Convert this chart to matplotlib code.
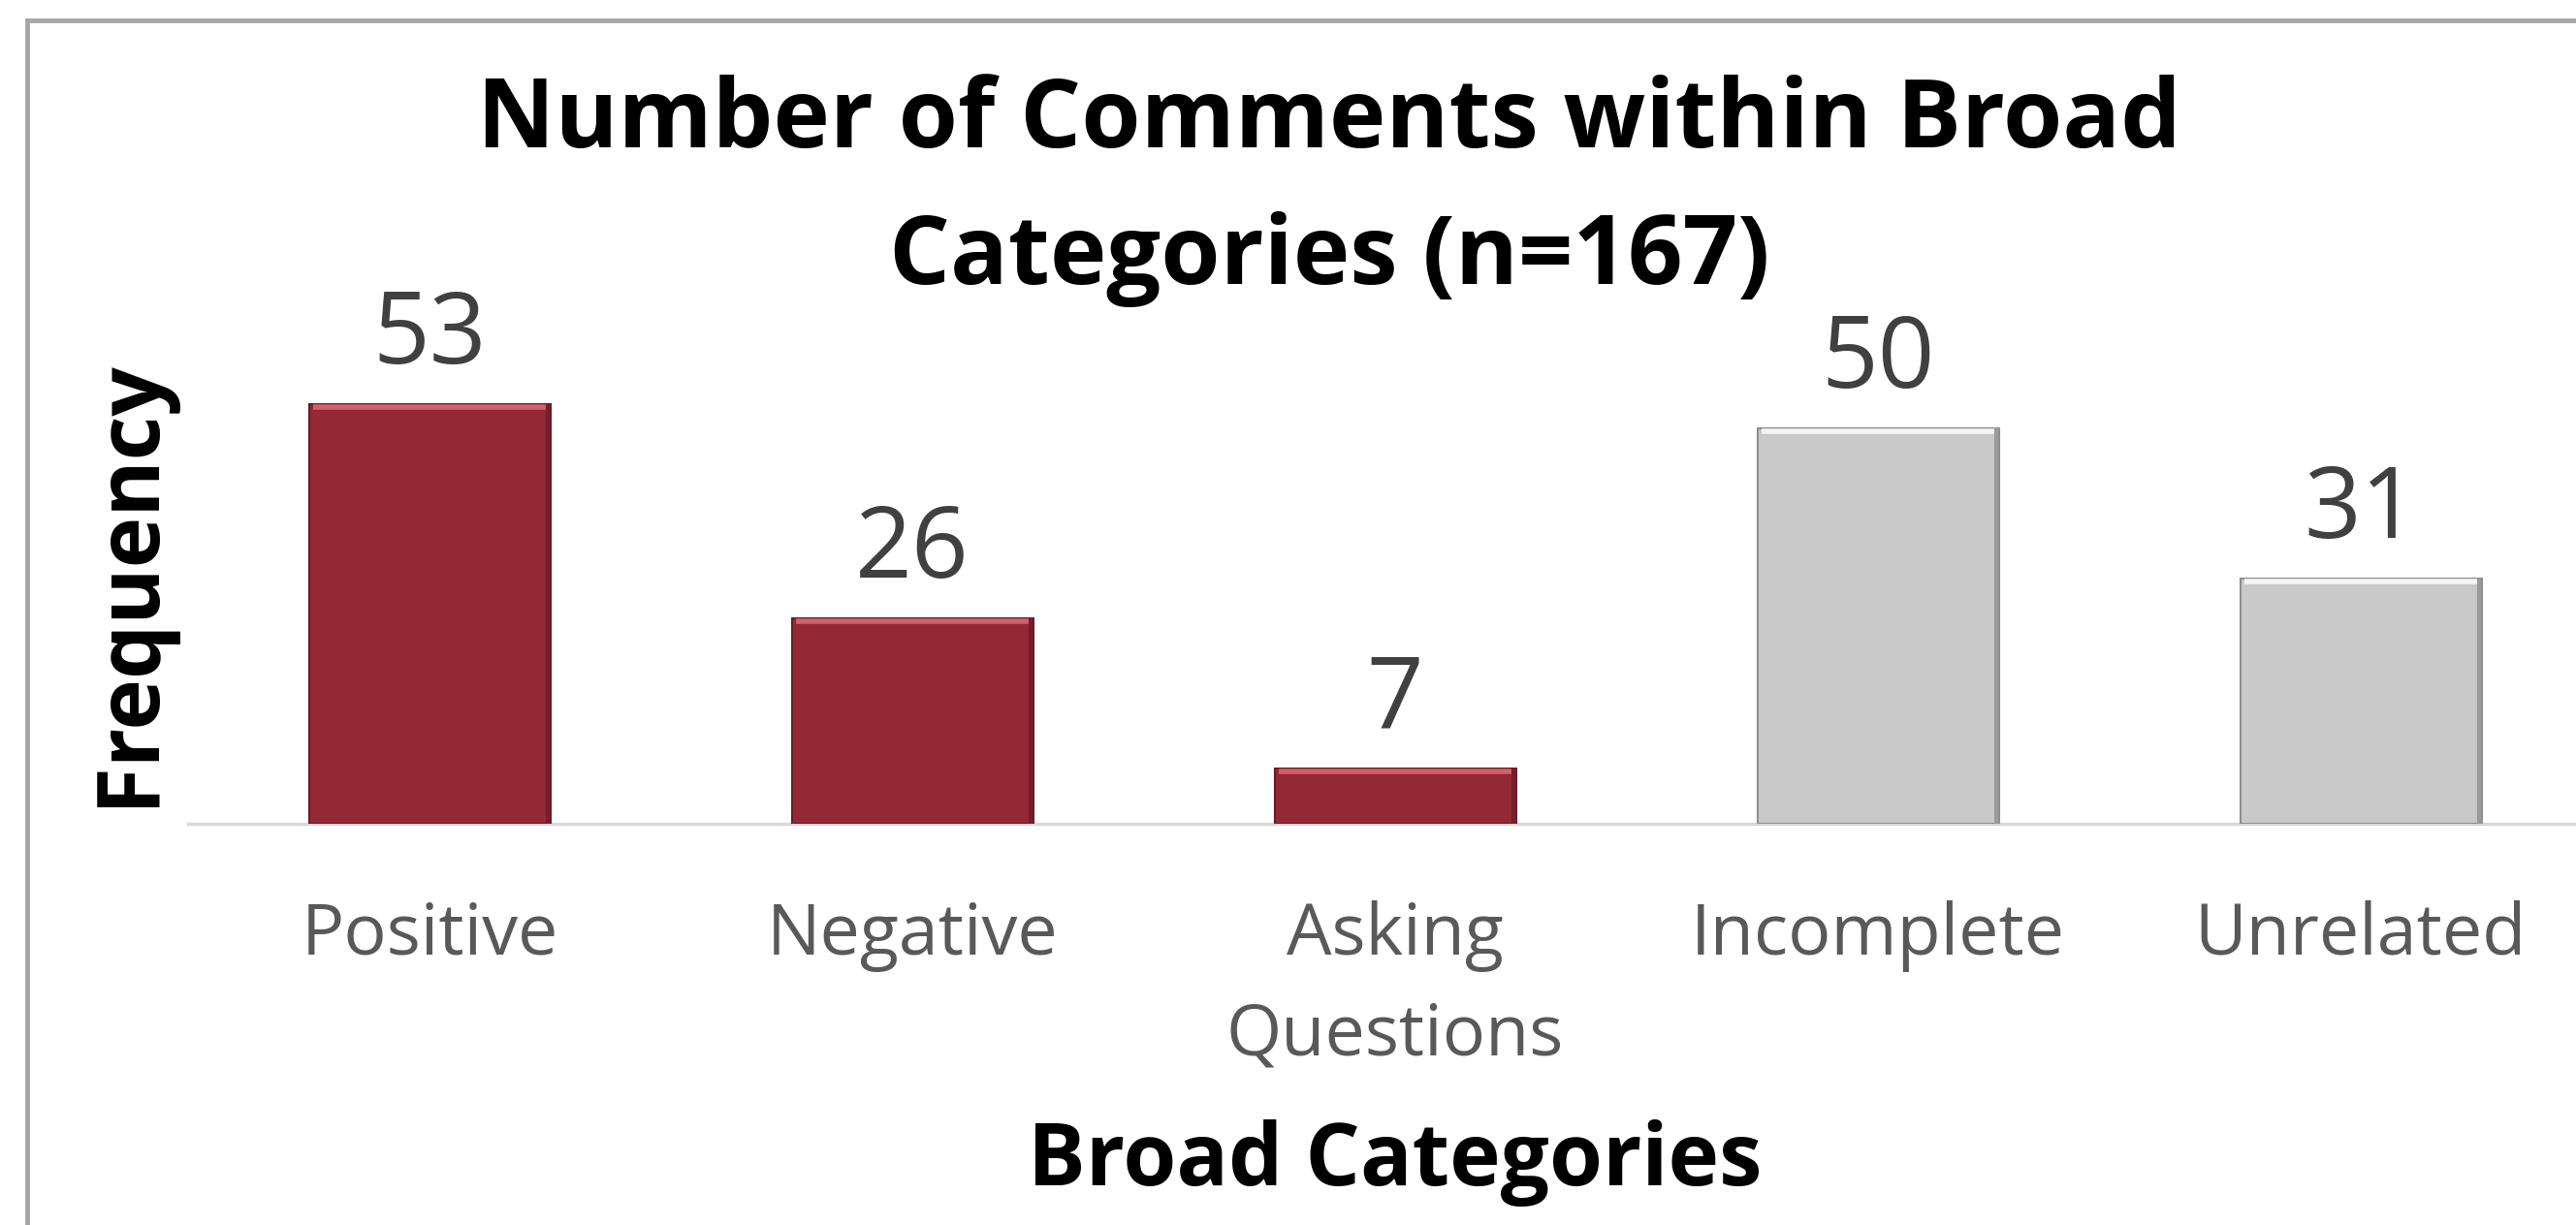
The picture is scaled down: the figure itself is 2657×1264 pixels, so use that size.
import matplotlib
matplotlib.use("Agg")
import matplotlib.pyplot as plt
import matplotlib.transforms as mtransforms
from matplotlib.lines import Line2D

# data
categories = ["Positive", "Negative", "Asking\nQuestions", "Incomplete", "Unrelated"]
counts = [53, 26, 7, 50, 31]
bar_colors = ["#952835", "#952835", "#952835", "#C9C9C9", "#C9C9C9"]
edge_colors = ["#6A1C26", "#6A1C26", "#6A1C26", "#8E8E8E", "#8E8E8E"]
shine_colors = ["#D2606D", "#D2606D", "#D2606D", "#F4F4F4", "#F4F4F4"]
shade_colors = ["#741F2A", "#741F2A", "#741F2A", "#9A9A9A", "#9A9A9A"]

W, H, DPI = 2657, 1264, 100
FONT = "Open Sans"

fig = plt.figure(figsize=(W / DPI, H / DPI), dpi=DPI)

# plot area: runs past the right edge like the cropped original
ax_left, ax_right = 194, 2684
ax_base, ax_top = 850, 850 - 60 * 8.17
ax = fig.add_axes([ax_left / W, (H - ax_base) / H,
                   (ax_right - ax_left) / W, (ax_base - ax_top) / H])

x = list(range(len(categories)))
bars = ax.bar(x, counts, width=0.5, color=bar_colors,
              edgecolor=edge_colors, linewidth=1.5, zorder=3)
ax.set_xlim(-0.5, len(categories) - 0.5)
ax.set_ylim(0, 60)

# bevel: light strip along the top, darker strip down the right side
shine_tr = mtransforms.offset_copy(ax.transData, fig=fig, x=0, y=-3, units="dots")
shade_tr = mtransforms.offset_copy(ax.transData, fig=fig, x=-3, y=0, units="dots")
for b, c_hi, c_lo in zip(bars, shine_colors, shade_colors):
    x0, x1 = b.get_x(), b.get_x() + b.get_width()
    top = b.get_height()
    ax.plot([x0 + 0.01, x1 - 0.01], [top, top], color=c_hi, lw=4,
            solid_capstyle="butt", transform=shine_tr, zorder=4)
    ax.plot([x1, x1], [0, top], color=c_lo, lw=3,
            solid_capstyle="butt", transform=shade_tr, zorder=4)

for s in ["left", "right", "top"]:
    ax.spines[s].set_visible(False)
ax.spines["bottom"].set_color("#D9D9D9")
ax.spines["bottom"].set_linewidth(2.5)
ax.set_xticks([])
ax.set_yticks([])

# value labels
for xi, v in zip(x, counts):
    ax.annotate(str(v), xy=(xi, v), xytext=(0, 30), textcoords="offset points",
                ha="center", va="baseline", fontsize=74, color="#404040",
                family=FONT)

# category labels, one line at a time
for xi, lab in zip(x, categories):
    for k, line in enumerate(lab.split("\n")):
        ax.annotate(line, xy=(xi, 0), xytext=(0, -97 - 75 * k),
                    textcoords="offset points", ha="center", va="baseline",
                    fontsize=53, color="#595959", family=FONT)

title_lines = ["Number of Comments within Broad", "Categories (n=167)"]
for k, line in enumerate(title_lines):
    fig.text(1371 / W, 1 - (152 + 141 * k) / H, line, ha="center",
             va="baseline", fontsize=71.3, fontweight="bold", family=FONT,
             color="black")

fig.text(1439 / W, 1 - 1223 / H, "Broad Categories", ha="center", va="baseline",
         fontsize=64, fontweight="bold", family=FONT, color="black")
fig.text(157 / W, 1 - 601 / H, "Frequency", rotation=90, ha="center",
         va="baseline", rotation_mode="anchor", fontsize=64, fontweight="bold",
         family=FONT, color="black")

# chart frame (left and top edges show, the rest is cropped)
fx = 27.5 / W
fy = 1 - 20.5 / H
fig.add_artist(Line2D([fx, fx], [0, fy], color="#A6A6A6", linewidth=3.5))
fig.add_artist(Line2D([fx, 1], [fy, fy], color="#A6A6A6", linewidth=3.5))

fig.savefig("out.png", dpi=DPI)
